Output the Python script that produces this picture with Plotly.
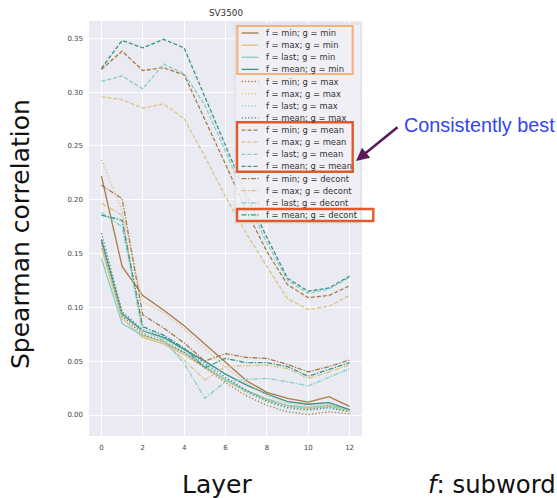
import plotly.graph_objects as go

layers = list(range(13))

f_names = ["min", "max", "last", "mean"]
g_names = ["min", "max", "mean", "decont"]

colors = {"min": "#a87a45", "max": "#dcc283", "last": "#86cdc2", "mean": "#3a9288"}
dashes = {"min": "solid", "max": "1.3px,2px", "mean": "4px,2px", "decont": "5px,1.5px,1.3px,1.5px"}

# values
min_min = [0.222, 0.138, 0.111, 0.0975, 0.083, 0.066, 0.049, 0.032, 0.021, 0.0155, 0.012, 0.017, 0.008]
max_min = [0.155, 0.090, 0.072, 0.066, 0.056, 0.044, 0.032, 0.022, 0.014, 0.0085, 0.006, 0.008, 0.004]
last_min = [0.1455, 0.085, 0.074, 0.068, 0.058, 0.045, 0.033, 0.023, 0.015, 0.009, 0.007, 0.009, 0.005]
mean_min = [0.163, 0.094, 0.078, 0.072, 0.061, 0.050, 0.038, 0.028, 0.0195, 0.0125, 0.010, 0.0115, 0.005]

min_max = [0.160, 0.092, 0.075, 0.068, 0.058, 0.044, 0.030, 0.018, 0.009, 0.003, 0.0005, 0.003, 0.001]
max_max = [0.237, 0.190, 0.105, 0.095, 0.080, 0.062, 0.044, 0.030, 0.018, 0.011, 0.008, 0.010, 0.004]
last_max = [0.158, 0.093, 0.076, 0.070, 0.060, 0.046, 0.033, 0.021, 0.012, 0.006, 0.004, 0.006, 0.003]
mean_max = [0.169, 0.096, 0.079, 0.073, 0.062, 0.048, 0.035, 0.023, 0.013, 0.007, 0.005, 0.007, 0.003]

min_mean = [0.321, 0.338, 0.320, 0.3225, 0.316, 0.275, 0.233, 0.190, 0.152, 0.121, 0.109, 0.111, 0.120]
max_mean = [0.2955, 0.293, 0.285, 0.289, 0.2755, 0.240, 0.203, 0.169, 0.138, 0.108, 0.098, 0.101, 0.111]
last_mean = [0.310, 0.315, 0.303, 0.326, 0.317, 0.288, 0.245, 0.200, 0.160, 0.125, 0.113, 0.117, 0.128]
mean_mean = [0.322, 0.348, 0.341, 0.349, 0.341, 0.296, 0.250, 0.205, 0.165, 0.127, 0.115, 0.118, 0.129]

min_decont = [0.2135, 0.201, 0.093, 0.081, 0.067, 0.050, 0.057, 0.0535, 0.0525, 0.047, 0.040, 0.045, 0.051]
max_decont = [0.1966, 0.1857, 0.073, 0.068, 0.051, 0.0325, 0.045, 0.0455, 0.0464, 0.043, 0.034, 0.040, 0.0464]
last_decont = [0.1878, 0.175, 0.079, 0.0696, 0.048, 0.0155, 0.031, 0.033, 0.034, 0.031, 0.027, 0.035, 0.043]
mean_decont = [0.1857, 0.181, 0.082, 0.0743, 0.062, 0.044, 0.0526, 0.0486, 0.0486, 0.0449, 0.036, 0.0424, 0.0486]

data = {
    ("min", "min"): min_min, ("max", "min"): max_min, ("last", "min"): last_min, ("mean", "min"): mean_min,
    ("min", "max"): min_max, ("max", "max"): max_max, ("last", "max"): last_max, ("mean", "max"): mean_max,
    ("min", "mean"): min_mean, ("max", "mean"): max_mean, ("last", "mean"): last_mean, ("mean", "mean"): mean_mean,
    ("min", "decont"): min_decont, ("max", "decont"): max_decont, ("last", "decont"): last_decont, ("mean", "decont"): mean_decont,
}

W, H = 557, 498
L, R, T, B = 89, 362, 21, 436  # plot area in px


def px(x):
    return (x - L) / (R - L)


def py(y):
    return (B - y) / (B - T)


fig = go.Figure()
for g in g_names:
    for f in f_names:
        fig.add_trace(go.Scatter(
            x=layers, y=data[(f, g)], mode="lines",
            name=f"f = {f}; g = {g}",
            line=dict(color=colors[f], width=1.3, dash=dashes[g]),
            showlegend=False, hoverinfo="skip",
        ))

shapes = []
annotations = []

# legend frame
shapes.append(dict(type="rect", xref="paper", yref="paper",
                   x0=px(235), x1=px(361), y0=py(223), y1=py(24),
                   fillcolor="rgba(240,240,246,0.85)", line=dict(color="#d6d6de", width=0.8), layer="above"))
# legend entries
i = 0
for g in g_names:
    for f in f_names:
        yy = 33 + 12.13 * i
        shapes.append(dict(type="line", xref="paper", yref="paper",
                           x0=px(241.5), x1=px(258.5), y0=py(yy), y1=py(yy),
                           line=dict(color=colors[f], width=1.3, dash=dashes[g]), layer="above"))
        annotations.append(dict(xref="paper", yref="paper", x=px(264), y=py(yy),
                                text=f"f = {f}; g = {g}", showarrow=False,
                                xanchor="left", yanchor="middle",
                                font=dict(family="DejaVu Sans", size=8.4, color="#333333")))
        i += 1

# highlight boxes
shapes.append(dict(type="rect", xref="paper", yref="paper", x0=px(237.3), x1=px(352.7), y0=py(74), y1=py(26),
                   line=dict(color="#f6b27c", width=2.2), layer="above"))
shapes.append(dict(type="rect", xref="paper", yref="paper", x0=px(237), x1=px(352.7), y0=py(171.7), y1=py(122.3),
                   line=dict(color="#e05a2b", width=2.4), layer="above"))
shapes.append(dict(type="rect", xref="paper", yref="paper", x0=px(237), x1=px(373.3), y0=py(221), y1=py(209),
                   line=dict(color="#e05a2b", width=2.4), layer="above"))

# arrow + text
annotations.append(dict(xref="paper", yref="paper", x=px(356), y=py(161), ax=43, ay=-35,
                        text="", showarrow=True, arrowhead=2, arrowsize=1.0, arrowwidth=2.6,
                        arrowcolor="#5a1a5c"))
annotations.append(dict(xref="paper", yref="paper", x=px(401.5), y=py(125), text="Consistently best",
                        showarrow=False, xanchor="left", yanchor="middle",
                        font=dict(family="Liberation Sans", size=19.8, color="#3344f0")))

# title
annotations.append(dict(xref="paper", yref="paper", x=0.5, y=py(12.7), text="SV3500", showarrow=False,
                        xanchor="center", yanchor="middle",
                        font=dict(family="DejaVu Sans", size=8.8, color="#333333")))
# axis labels
annotations.append(dict(xref="paper", yref="paper", x=px(217), y=py(484), text="Layer", showarrow=False,
                        xanchor="center", yanchor="middle",
                        font=dict(family="DejaVu Sans", size=25, color="#111111")))
annotations.append(dict(xref="paper", yref="paper", x=px(426), y=py(484), text="<i>f</i>: subword", showarrow=False,
                        xanchor="left", yanchor="middle",
                        font=dict(family="DejaVu Sans", size=24.3, color="#111111")))
annotations.append(dict(xref="paper", yref="paper", x=px(20), y=py(234), text="Spearman correlation", showarrow=False,
                        xanchor="center", yanchor="middle", textangle=-90,
                        font=dict(family="DejaVu Sans", size=25, color="#111111")))

fig.update_layout(
    width=W, height=H,
    margin=dict(l=L, r=W - R, t=T, b=H - B, pad=0),
    paper_bgcolor="white", plot_bgcolor="#eaeaf2",
    shapes=shapes, annotations=annotations,
    showlegend=False, hovermode=False,
    xaxis=dict(range=[-0.6, 12.6], tickvals=[0, 2, 4, 6, 8, 10, 12], showgrid=True, gridcolor="white",
               gridwidth=1, zeroline=False, showline=False, ticks="",
               tickfont=dict(family="DejaVu Sans", size=7, color="#444444"), ticklabelstandoff=6),
    yaxis=dict(range=[-0.0195, 0.366], tickvals=[0, 0.05, 0.10, 0.15, 0.20, 0.25, 0.30, 0.35],
               ticktext=["0.00", "0.05", "0.10", "0.15", "0.20", "0.25", "0.30", "0.35"],
               showgrid=True, gridcolor="white", gridwidth=1, zeroline=False, showline=False, ticks="",
               tickfont=dict(family="DejaVu Sans", size=7, color="#444444"), ticklabelstandoff=5),
)

fig.write_html("out.html", config={"displayModeBar": False},
               post_script="document.body.style.margin='0px';")
